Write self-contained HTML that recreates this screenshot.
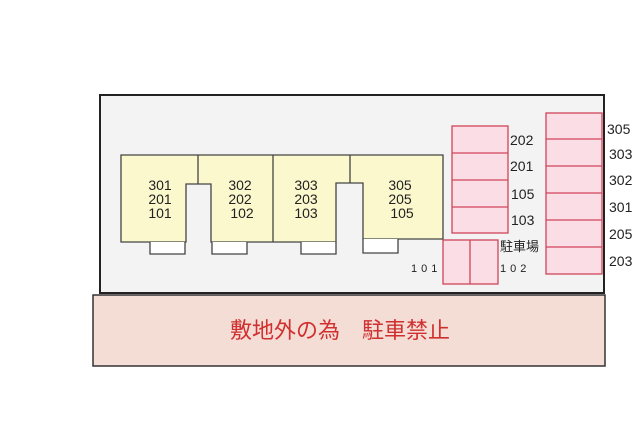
<!DOCTYPE html>
<html><head><meta charset="utf-8"><style>body{margin:0;background:#fff}svg{display:block}</style></head><body>
<svg width="640" height="426" viewBox="0 0 640 426" xmlns="http://www.w3.org/2000/svg" font-family="Liberation Sans, Noto Sans CJK JP, sans-serif">
<rect x="100" y="95" width="504" height="198" fill="#f3f3f3" stroke="#222" stroke-width="2"/>
<rect x="93" y="295" width="512" height="71" fill="#f3ddd5" stroke="#333" stroke-width="1.5"/>
<text x="340" y="338" font-size="22" fill="#d03030" text-anchor="middle">敷地外の為　駐車禁止</text>
<polygon points="121,155 443,155 443,239 363,239 363,183 336,183 336,242 211,242 211,184 186,184 186,242 121,242" fill="#fbf8cd" stroke="#444" stroke-width="1.3"/>
<g stroke="#444" stroke-width="1.3" fill="#fff">
<line x1="198" y1="155" x2="198" y2="184"/><line x1="273" y1="155" x2="273" y2="242"/><line x1="350" y1="155" x2="350" y2="183"/>
<polyline points="150,242 150,254 185,254 185,242"/>
<polyline points="212,242 212,254 247,254 247,242"/>
<polyline points="301,242 301,254 336,254 336,242"/>
<polyline points="363,239 363,253 398,253 398,239"/>
</g>
<g font-size="14" fill="#222" text-anchor="middle">
<text x="160" y="190">301</text><text x="160" y="204">201</text><text x="160" y="218">101</text>
<text x="240" y="190">302</text><text x="240" y="204">202</text><text x="242" y="218">102</text>
<text x="306" y="190">303</text><text x="306" y="204">203</text><text x="306" y="218">103</text>
<text x="400" y="190">305</text><text x="400" y="204">205</text><text x="402" y="218">105</text>
</g>
<g fill="#fbdde6" stroke="#d0445a" stroke-width="1.3">
<rect x="452" y="126" width="56" height="107"/>
<line x1="452" y1="153" x2="508" y2="153"/><line x1="452" y1="180" x2="508" y2="180"/><line x1="452" y1="207" x2="508" y2="207"/>
<rect x="443" y="240" width="55" height="44"/><line x1="470" y1="240" x2="470" y2="284"/>
<rect x="546" y="113" width="56" height="161"/>
<line x1="546" y1="139" x2="602" y2="139"/><line x1="546" y1="166" x2="602" y2="166"/><line x1="546" y1="193" x2="602" y2="193"/><line x1="546" y1="220" x2="602" y2="220"/><line x1="546" y1="247" x2="602" y2="247"/>
</g>
<g font-size="14" fill="#222">
<text x="510" y="145">202</text><text x="510" y="171">201</text><text x="511" y="199">105</text><text x="511" y="225">103</text>
<text x="607" y="134">305</text><text x="609" y="159">303</text><text x="609" y="185">302</text><text x="609" y="212">301</text><text x="609" y="239">205</text><text x="609" y="266">203</text>
<text x="500" y="251" font-size="13">駐車場</text>
<text x="411" y="272" font-size="11" letter-spacing="4">101</text>
<text x="500" y="272" font-size="11" letter-spacing="4">102</text>
</g>
</svg>
</body></html>
